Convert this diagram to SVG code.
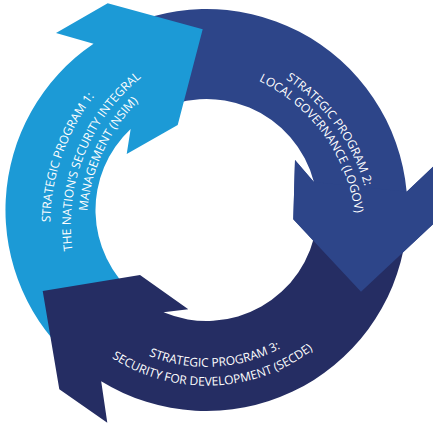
<svg xmlns="http://www.w3.org/2000/svg" xmlns:xlink="http://www.w3.org/1999/xlink" width="433" height="425" viewBox="0 0 433 425">
<style>
.p1 { fill: #1c9ad6; }
.p2 { fill: #2d4589; }
.p3 { fill: #252d63; }
.t { font-family: "Open Sans", "Noto Sans", "Liberation Sans", sans-serif; font-size: 12px; fill: #ffffff; }
</style>
<defs>
<path id="tp1a" d="M 58.1 281.7 A 209.7 209.7 0 0 1 137.6 54.7"/>
<path id="tp1b" d="M 80.4 284.4 A 189.2 189.2 0 0 1 170.3 58.4"/>
<path id="tp1c" d="M 89.4 255.1 A 173.2 173.2 0 0 1 173.4 75"/>
<path id="tp2a" d="M 243.2 58.2 A 189.2 189.2 0 0 1 371.6 233.1"/>
<path id="tp2b" d="M 224.7 68.3 A 174.3 174.3 0 0 1 356.4 249.6"/>
<path id="tp3a" d="M 124.1 343.4 A 156.8 156.8 0 0 0 303.7 333.1"/>
<path id="tp3b" d="M 87.5 339.1 A 175.6 175.6 0 0 0 335.7 329"/>
</defs>
<rect width="433" height="425" fill="#ffffff"/>
<g id="program-2-body">
<path class="p2" d="M 106 35.93 A 201 201 0 0 1 406.67 191.78 L 435.1 164.7 L 433.4 224 L 361 291.7 L 293.3 219.3 L 295 160 L 313.92 182.02 A 111 111 0 0 0 151 113.87 Z"/>
</g>
<g id="program-1">
<path class="p1" d="M 77.3 364 A 201 201 0 0 1 93.52 43.75 L 56 33 L 107.7 3.3 L 202.7 29.3 L 177.7 125 L 126.7 154 L 130.65 128.95 A 111 111 0 0 0 135.15 295.03 Z"/>
<text class="t"><textPath xlink:href="#tp1a" href="#tp1a" startOffset="50%" text-anchor="middle">STRATEGIC PROGRAM 1:</textPath></text>
<text class="t"><textPath xlink:href="#tp1b" href="#tp1b" startOffset="50%" text-anchor="middle">THE NATION’S SECURITY INTEGRAL</textPath></text>
<text class="t"><textPath xlink:href="#tp1c" href="#tp1c" startOffset="50%" text-anchor="middle">MANAGEMENT (NSIM)</textPath></text>
</g>
<g id="program-3">
<path class="p3" d="M 405.54 237.97 A 201 201 0 0 1 101.18 381.2 L 107.3 422.7 L 59.3 389.3 L 42.7 291 L 140 275 L 188.3 309.3 L 163.49 312.33 A 111 111 0 0 0 316.42 225.45 Z"/>
<text class="t"><textPath xlink:href="#tp3a" href="#tp3a" startOffset="50%" text-anchor="middle">STRATEGIC PROGRAM 3:</textPath></text>
<text class="t"><textPath xlink:href="#tp3b" href="#tp3b" startOffset="50%" text-anchor="middle">SECURITY FOR DEVELOPMENT (SECDE)</textPath></text>
</g>
<g id="program-2">
<path class="p2" d="M 406.67 191.78 L 435.1 164.7 L 433.4 224 L 361 291.7 L 293.3 219.3 L 295 160 L 313.92 182.02 Z"/>
<text class="t"><textPath xlink:href="#tp2a" href="#tp2a" startOffset="50%" text-anchor="middle">STRATEGIC PROGRAM 2:</textPath></text>
<text class="t"><textPath xlink:href="#tp2b" href="#tp2b" startOffset="50%" text-anchor="middle">LOCAL GOVERNANCE (LOGOV)</textPath></text>
</g>
</svg>
